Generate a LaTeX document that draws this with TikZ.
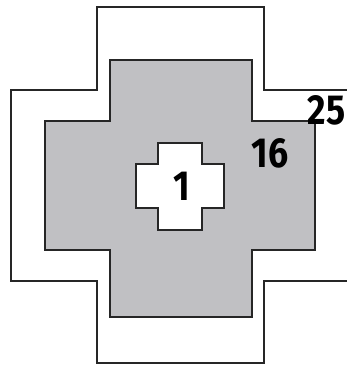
\documentclass[tikz,border=0pt]{standalone}
\usepackage{fontspec}
\setmainfont{Fira Sans}
\definecolor{crossgray}{RGB}{192,192,195}
\tikzset{
  edge/.style={line width=2.6pt, line join=miter, black!85},
  num/.style={font=\fontsize{42}{42}\selectfont\bfseries, inner sep=0pt, xscale=0.85}
}
\begin{document}
\begin{tikzpicture}[x=1pt,y=-1pt]
\useasboundingbox (0,0) rectangle (347,367);
% outer cross (open at right)
\draw[edge] (347,90) -- (264,90) -- (264,7) -- (97,7) -- (97,90) -- (11,90) -- (11,281) -- (97,281) -- (97,363) -- (264,363) -- (264,281) -- (347,281);
% gray cross
\filldraw[edge, fill=crossgray] (110,60) -- (252,60) -- (252,121) -- (315,121) -- (315,250) -- (252,250) -- (252,317) -- (110,317) -- (110,250) -- (45,250) -- (45,121) -- (110,121) -- cycle;
% inner white cross
\filldraw[edge, fill=white] (158,143) -- (202,143) -- (202,164) -- (224,164) -- (224,208) -- (202,208) -- (202,230) -- (158,230) -- (158,208) -- (136,208) -- (136,164) -- (158,164) -- cycle;
\node[num] (one) at (182,186) {1};
\node[num] (sixteen) at (270,153) {16};
\node[num, anchor=east] (twentyfive) at (345.5,110) {25};
\end{tikzpicture}
\end{document}
